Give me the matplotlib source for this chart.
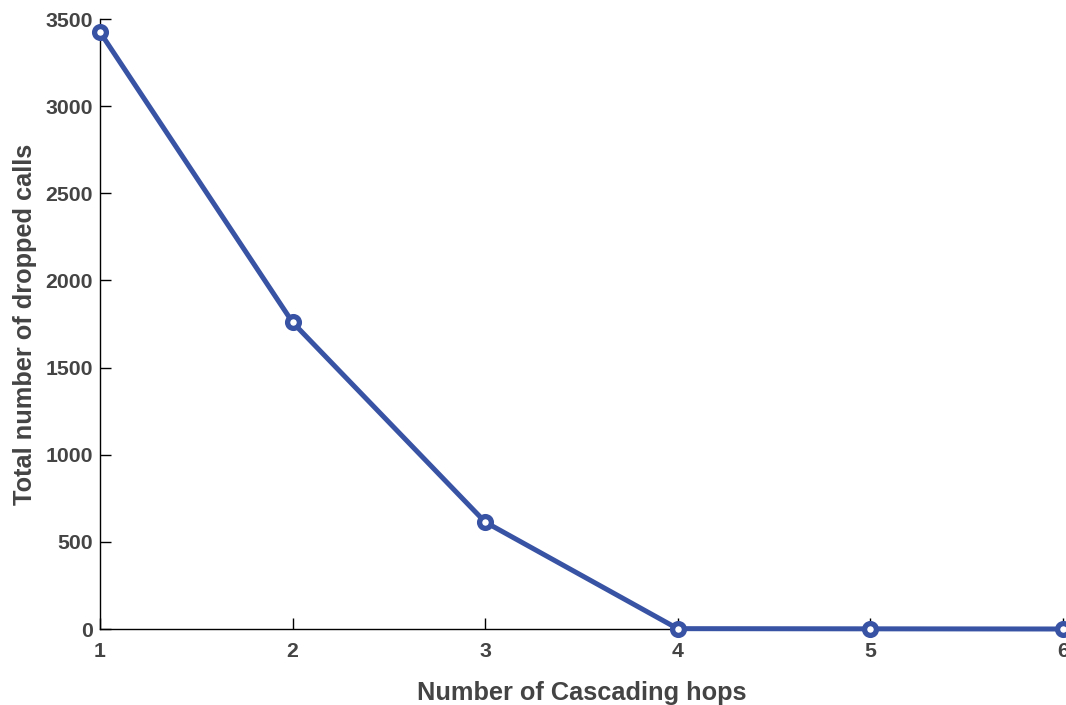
import matplotlib
matplotlib.use('Agg')
import matplotlib.pyplot as plt

# Dados
saltos = [1, 2, 3, 4, 5, 6]
chamadas_perdidas = [3425, 1760, 614, 2, 1, 0]

plt.rcParams['font.family'] = ['Liberation Sans', 'DejaVu Sans']
plt.rcParams['font.weight'] = 'bold'

cor_texto = '#444444'
cor_linha = '#3953a4'

fig = plt.figure(figsize=(10.66, 7.05), dpi=100)
ax = fig.add_axes([0.0938, 0.1078, 0.9032, 0.8652])

ax.plot(saltos, chamadas_perdidas, color=cor_linha, linewidth=3.6,
        marker='o', markersize=8.5, markerfacecolor='white',
        markeredgecolor=cor_linha, markeredgewidth=3.8, clip_on=False, zorder=3)

ax.set_xlim(1, 6)
ax.set_ylim(0, 3500)
ax.set_xticks(saltos)
ax.set_yticks(range(0, 3501, 500))

for lado in ['top', 'right']:
    ax.spines[lado].set_visible(False)
for lado in ['left', 'bottom']:
    ax.spines[lado].set_linewidth(1.0)
    ax.spines[lado].set_color('black')

ax.tick_params(direction='in', length=8, width=1, labelsize=15.3, labelcolor=cor_texto)
ax.tick_params(axis='x', pad=9)
ax.tick_params(axis='y', pad=5)

ax.set_xlabel('Number of Cascading hops', fontsize=18.3, fontweight='bold', color=cor_texto, labelpad=15)
ax.set_ylabel('Total number of dropped calls', fontsize=18.3, fontweight='bold', color=cor_texto, labelpad=6)

fig.savefig('out.png', dpi=100)
